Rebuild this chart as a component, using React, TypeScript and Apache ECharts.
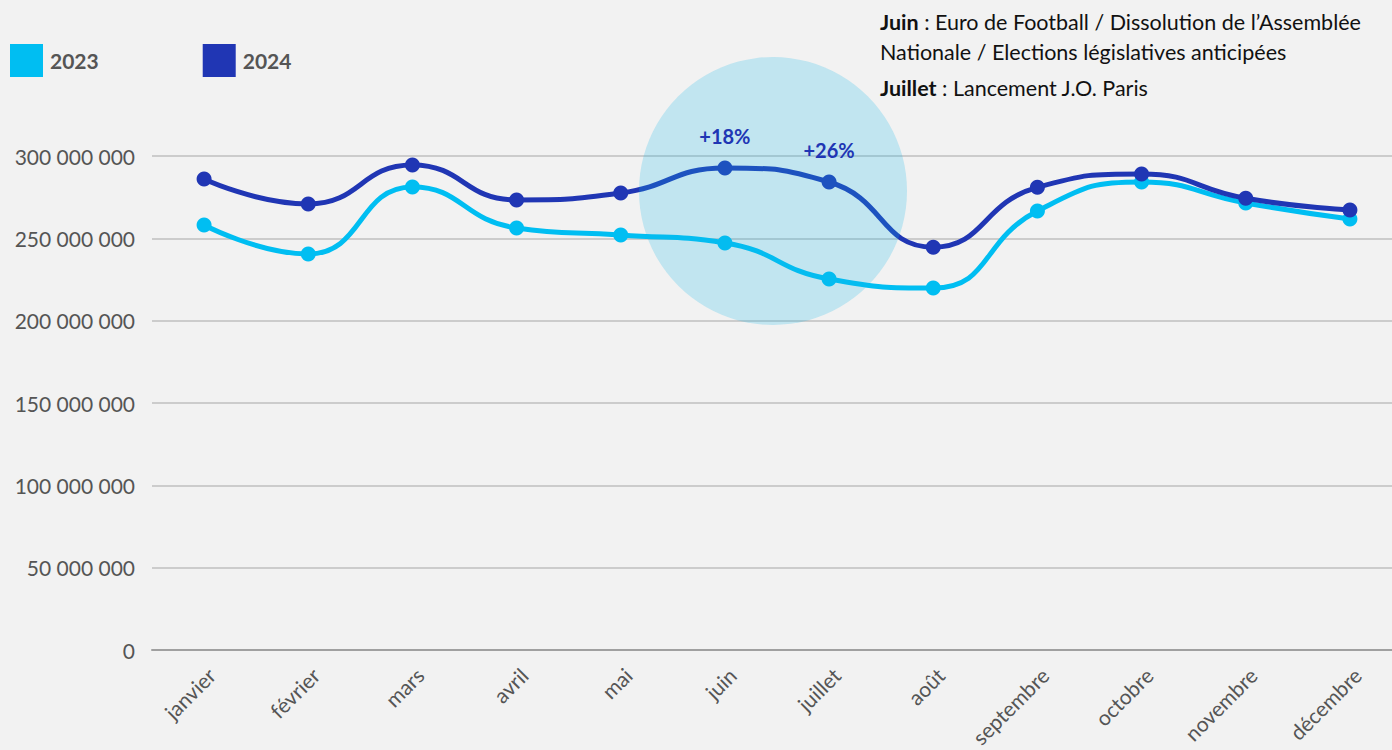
import React, { useEffect, useRef } from "react";
import * as echarts from "echarts";

const months = ["janvier", "février", "mars", "avril", "mai", "juin", "juillet", "août", "septembre", "octobre", "novembre", "décembre"];
const values2023 = [258.1, 240.5, 281.2, 256.3, 252.0, 247.2, 225.3, 219.8, 266.6, 284.2, 271.5, 261.7].map((v) => v * 1e6);
const values2024 = [286.0, 270.9, 294.5, 273.3, 277.5, 292.7, 284.2, 244.6, 281.0, 289.1, 274.3, 267.2].map((v) => v * 1e6);
const growthLabels = ["", "", "", "", "", "+18%", "+26%", "", "", "", "", ""];
const yTicks = { min: 0, max: 300000000, interval: 50000000 };

const C2023 = "#00BEF2";
const C2024 = "#2036B4";
const FONT = "Lato";

export default function App() {
  const ref = useRef<HTMLDivElement>(null);
  useEffect(() => {
    const chart = echarts.init(ref.current!, null, { renderer: "svg" });
    const fmt = (v: number) => {
      const s = Math.round(v).toString();
      return s.replace(/\B(?=(\d{3})+(?!\d))/g, " ");
    };
    chart.setOption({
      animation: false,
      backgroundColor: "#F2F2F2",
      textStyle: { fontFamily: FONT },
      grid: { left: 152, width: 1250, top: 156, bottom: 100, containLabel: false, outerBoundsMode: "none" },
      legend: {
        data: ["2023", "2024"],
        left: 5,
        top: 39,
        icon: "rect",
        itemWidth: 33,
        itemHeight: 33,
        itemGap: 104,
        textStyle: { fontFamily: FONT, fontSize: 21, fontWeight: "bold", color: "#555555", padding: [0, 0, 0, 2] },
      },
      xAxis: {
        type: "category",
        data: months,
        boundaryGap: true,
        axisTick: { show: false },
        axisLine: { lineStyle: { color: "#A0A0A0", width: 2 } },
        axisLabel: { rotate: 45, fontFamily: FONT, fontSize: 21, color: "#555555", margin: 14, verticalAlign: "top" },
      },
      yAxis: {
        type: "value",
        min: yTicks.min,
        max: yTicks.max,
        interval: yTicks.interval,
        axisLine: { show: false },
        axisTick: { show: false },
        splitLine: { lineStyle: { color: "#CCCCCC", width: 2 } },
        axisLabel: { fontFamily: FONT, fontSize: 21, color: "#555555", margin: 17, formatter: fmt },
      },
      series: [
        {
          name: "2023",
          type: "line",
          data: values2023,
          smooth: 0.5,
          symbol: "circle",
          symbolSize: 15,
          lineStyle: { width: 5, color: C2023 },
          itemStyle: { color: C2023 },
          z: 2,
        },
        {
          name: "2024",
          type: "line",
          data: values2024,
          smooth: 0.5,
          symbol: "circle",
          symbolSize: 15,
          lineStyle: { width: 5, color: C2024 },
          itemStyle: { color: C2024 },
          z: 3,
        },
        {
          name: "labels",
          type: "line",
          data: values2024.map((v, i) => (growthLabels[i] ? v : "-")),
          symbol: "circle",
          symbolSize: 15,
          showAllSymbol: true,
          itemStyle: { color: "rgba(0,0,0,0)" },
          lineStyle: { opacity: 0 },
          z: 20,
          label: {
            show: true,
            position: "top",
            distance: 15,
            fontFamily: FONT,
            fontSize: 20,
            fontWeight: "bold",
            color: C2024,
            formatter: (p: any) => growthLabels[p.dataIndex],
          },
        },
      ],
      graphic: [
        {
          type: "circle",
          z: 10,
          shape: { cx: 773, cy: 191, r: 134 },
          style: { fill: "rgba(20,180,230,0.22)" },
          silent: true,
        },
        {
          type: "text",
          z: 30,
          left: 880,
          top: 7,
          style: {
            text: "{b|Juin} : Euro de Football / Dissolution de l’Assemblée\nNationale / Elections législatives anticipées",
            fontFamily: FONT,
            fontSize: 21.5,
            lineHeight: 30,
            fill: "#111111",
            rich: {
              b: { fontFamily: FONT, fontSize: 21.5, fontWeight: "bold", fill: "#111111", lineHeight: 30 },
            },
          },
        },
        {
          type: "text",
          z: 30,
          left: 880,
          top: 75,
          style: {
            text: "{b|Juillet} : Lancement J.O. Paris",
            fontFamily: FONT,
            fontSize: 21.5,
            lineHeight: 26,
            fill: "#111111",
            rich: {
              b: { fontFamily: FONT, fontSize: 21.5, fontWeight: "bold", fill: "#111111", lineHeight: 26 },
            },
          },
        },
      ],
    });
    return () => chart.dispose();
  }, []);
  return <div ref={ref} style={{ position: "fixed", left: 0, top: 0, width: 1392, height: 750 }} />;
}
